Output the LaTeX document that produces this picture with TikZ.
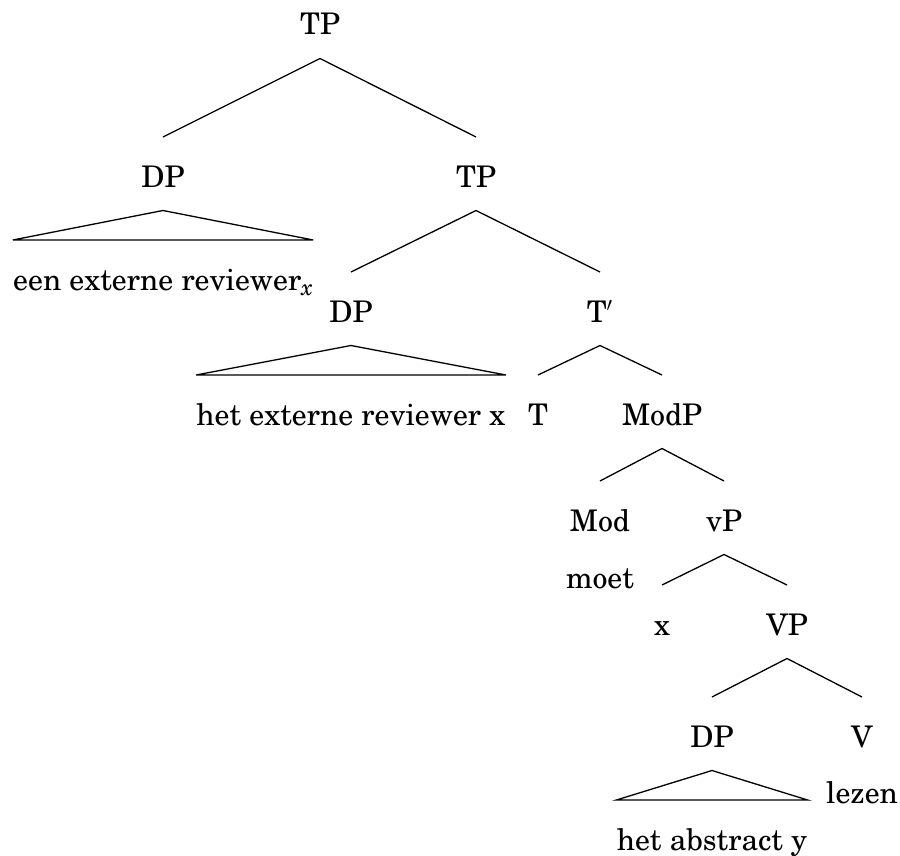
\documentclass[tikz,border=0pt]{standalone}
\usepackage[T1]{fontenc}
\usepackage{newcent}
\usetikzlibrary{calc}
\begin{document}
\begin{tikzpicture}[x=0.5pt,y=-0.5pt,
  lbl/.style={anchor=base,inner sep=0pt,font=\fontsize{14.9}{17}\selectfont},
  edge/.style={line width=0.65pt,line join=miter},
]
\useasboundingbox (0,0) rectangle (900,856);

% category labels
\node[lbl] (tp1)  at (320,35)  {TP};
\node[lbl] (dp1)  at (163,187) {DP};
\node[lbl] (tp2)  at (476,187) {TP};
\node[lbl] (dp2)  at (351,322) {DP};
\node[lbl] (tbar) at (600,322) {T\raisebox{0.2pt}{$'$}};
\node[lbl] (t)    at (538,425) {T};
\node[lbl] (modp) at (662,425) {ModP};
\node[lbl] (mod)  at (600,531) {Mod};
\node[lbl] (vp)   at (724,531) {vP};
\node[lbl] (xs)   at (662,635) {x};
\node[lbl] (vpb)  at (787,635) {VP};
\node[lbl] (dp3)  at (712,747) {DP};
\node[lbl] (v)    at (862,747) {V};

% terminal strings
\node[lbl] (leaf1) at (163,290) {een externe reviewer\raisebox{-2.5pt}{\fontsize{11.5}{13}\selectfont\itshape x}};
\node[lbl] (leaf2) at (351,425) {het externe reviewer x};
\node[lbl] (moet)  at (600,588) {moet};
\node[lbl] (lezen) at (862,803) {lezen};
\node[lbl] (leaf3) at (712,850) {het abstract y};

% branching edges: from just below the mother to just above each daughter
\foreach \m/\l/\r in {tp1/dp1/tp2, tp2/dp2/tbar, tbar/t/modp, modp/mod/vp, vp/xs/vpb, vpb/dp3/v}{
  \draw[edge] ($(\l.base)+(0,-50)$) -- ($(\m.base)+(0,23.5)$) -- ($(\r.base)+(0,-50)$);
}

% triangles over unanalysed phrases
\foreach \m/\s in {dp1/leaf1, dp2/leaf2, dp3/leaf3}{
  \coordinate (\m-apex) at ($(\m.base)+(0,23.5)$);
  \coordinate (\m-bl) at ($(\s.base west)+(0,-50)$);
  \coordinate (\m-br) at ($(\s.base east)+(0,-50)$);
  \draw[edge] (\m-bl) -- (\m-apex) -- (\m-br) -- cycle;
}
\end{tikzpicture}
\end{document}
